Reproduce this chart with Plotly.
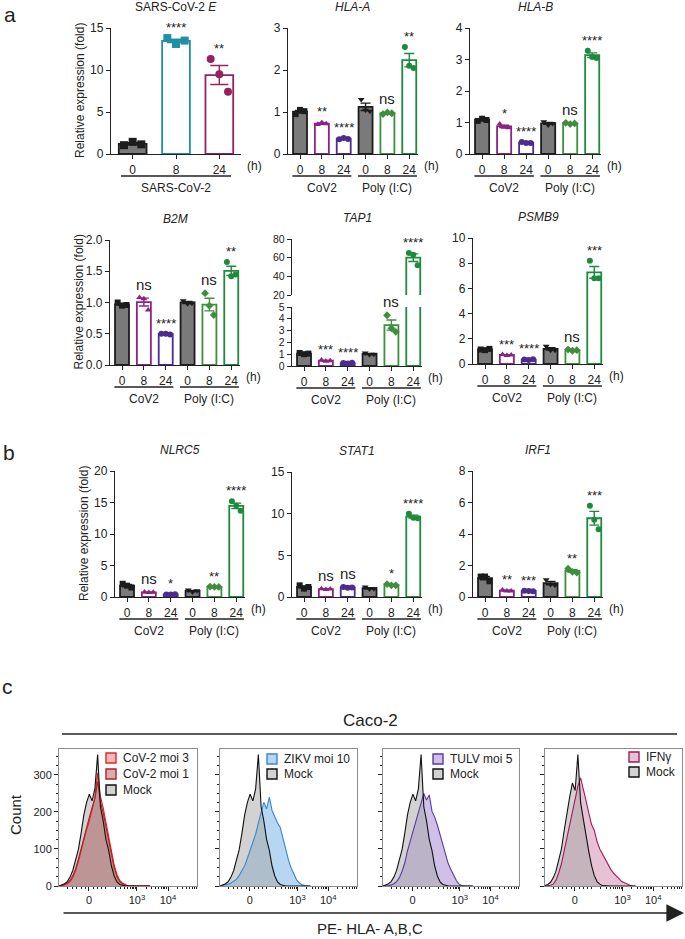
import plotly.graph_objects as go
import numpy as np

W, H = 685, 939
FONT = "Arial, Liberation Sans, Helvetica, sans-serif"
INK = "#222222"

# ---------------- data: panels a / b (relative expression, 3 replicates) ----------------
TIME_E = ["0", "8", "24"]
TIME_6 = ["0", "8", "24", "0", "8", "24"]
GROUP_E = ["SARS-CoV-2"]
GROUPS_6 = ["CoV2", "Poly (I:C)"]

E_PTS = [[1.05, 1.45, 1.15], [13.8, 13.1, 13.5], [11.3, 9.5, 7.4]]
E_SIG = ["", "****", "**"]

HLA_A_PTS = [[0.95, 1.05, 1.02], [0.70, 0.75, 0.72], [0.35, 0.38, 0.36],
             [1.30, 1.05, 1.02], [0.95, 0.99, 0.97], [2.55, 2.10, 2.05]]
HLA_A_SIG = ["", "**", "****", "", "ns", "**"]

HLA_B_PTS = [[1.05, 1.12, 1.08], [0.95, 0.85, 0.83], [0.38, 0.35, 0.35],
             [1.02, 0.92, 0.97], [0.99, 0.95, 0.97], [3.28, 3.08, 3.05]]
HLA_B_SIG = ["", "*", "****", "", "ns", "****"]

B2M_PTS = [[1.00, 0.95, 0.96], [1.08, 1.06, 0.88], [0.50, 0.50, 0.49],
           [1.03, 0.98, 0.99], [1.15, 0.95, 0.80], [1.65, 1.42, 1.45]]
B2M_SIG = ["", "ns", "****", "", "ns", "**"]

TAP1_PTS = [[1.10, 1.00, 1.05], [0.50, 0.40, 0.45], [0.25, 0.22, 0.27],
            [1.10, 0.95, 1.00], [4.30, 3.20, 2.90], [65.0, 63.0, 52.0]]
TAP1_SIG = ["", "***", "****", "", "ns", "****"]

PSMB9_PTS = [[1.15, 1.10, 1.20], [0.75, 0.68, 0.72], [0.35, 0.32, 0.38],
             [1.40, 1.10, 1.10], [1.15, 1.05, 1.10], [8.20, 6.80, 6.80]]
PSMB9_SIG = ["", "***", "****", "", "ns", "***"]

NLRC5_PTS = [[2.10, 1.80, 1.50], [0.80, 0.70, 0.75], [0.40, 0.38, 0.42],
             [1.10, 0.80, 1.00], [1.65, 1.60, 1.60], [15.2, 14.5, 13.7]]
NLRC5_SIG = ["", "ns", "*", "", "**", "****"]

STAT1_PTS = [[1.40, 1.00, 1.20], [1.00, 0.90, 0.95], [1.20, 1.10, 1.15],
             [1.20, 0.95, 1.00], [1.55, 1.40, 1.40], [10.0, 9.50, 9.45]]
STAT1_SIG = ["", "ns", "ns", "", "*", "****"]

IRF1_PTS = [[1.30, 1.30, 1.00], [0.45, 0.38, 0.38], [0.40, 0.38, 0.36],
            [1.10, 0.80, 0.75], [1.80, 1.60, 1.55], [5.80, 4.90, 4.30]]
IRF1_SIG = ["", "**", "***", "", "**", "***"]

# ---------------- data: panel c (flow histograms, counts per display channel) ----------------
CHANNEL = list(range(0, 68, 2))
MOCK = [0, 2, 6, 12, 24, 42, 68, 98, 142, 192, 226, 248, 230, 262, 355, 214, 176, 126,
        96, 54, 27, 11, 4, 1, 0, 0, 0, 0, 0, 0, 0, 0, 0, 0]
MOCK_IFN = [1, 4, 10, 22, 40, 68, 100, 150, 200, 240, 278, 258, 355, 225, 180, 130, 92,
            55, 28, 12, 5, 1, 0, 0, 0, 0, 0, 0, 0, 0, 0, 0, 0, 0]
COV_MOI3 = [0, 1, 3, 6, 12, 22, 40, 65, 95, 125, 152, 176, 204, 238, 305, 242, 212, 174,
            128, 94, 56, 31, 15, 8, 4, 1, 0, 0, 0, 0, 0, 0, 0, 0]
COV_MOI1 = [0, 1, 4, 8, 15, 28, 46, 72, 102, 132, 162, 186, 212, 236, 282, 228, 198, 162,
            118, 84, 50, 26, 12, 6, 2, 1, 0, 0, 0, 0, 0, 0, 0, 0]
ZIKV = [0, 1, 3, 5, 8, 12, 18, 28, 40, 55, 75, 95, 118, 140, 170, 195, 226, 208, 240,
        204, 186, 170, 158, 128, 100, 70, 48, 30, 16, 8, 3, 1, 0, 0]
TULV = [0, 0, 1, 3, 6, 12, 22, 40, 62, 95, 120, 145, 170, 196, 224, 250, 232, 246, 202,
        186, 164, 138, 110, 84, 60, 44, 28, 14, 5, 1, 0, 0, 0, 0]
IFNG = [0, 0, 2, 5, 15, 35, 60, 95, 130, 166, 200, 236, 270, 292, 256, 230, 196, 166,
        150, 120, 100, 86, 70, 56, 45, 35, 26, 20, 12, 8, 4, 2, 0, 0]
HIST_TICKS = ["0", "10<sup>3</sup>", "10<sup>4</sup>"]
COUNT_TICKS = [0, 100, 200, 300]

# ---------------- styles ----------------
STYLE_6 = [
    dict(fill="#7a7a7a", line="#1c1c1c", symbol="square"),
    dict(fill="white", line="#8b2386", symbol="triangle-up"),
    dict(fill="white", line="#4b2d8f", symbol="circle"),
    dict(fill="#7a7a7a", line="#1c1c1c", symbol="triangle-down"),
    dict(fill="white", line="#3d8f3d", symbol="diamond"),
    dict(fill="white", line="#1e8a3e", symbol="circle"),
]
STYLE_E = [
    dict(fill="#7a7a7a", line="#1c1c1c", symbol="square"),
    dict(fill="white", line="#1f8fa6", symbol="square"),
    dict(fill="white", line="#99205e", symbol="circle"),
]
JITTER = [-0.2, 0.0, 0.2]


def fx(px):
    return px / W


def fy(py):
    return 1 - py / H


fig = go.Figure()
axes_layout = {}
annotations = []
shapes = []
counter = [0]


def new_axes(xpx, ypx, xcfg, ycfg):
    counter[0] += 1
    n = counter[0]
    s = "" if n == 1 else str(n)
    axes_layout["xaxis" + s] = dict(domain=[fx(xpx[0]), fx(xpx[1])], anchor="y" + s,
                                    automargin=False, **xcfg)
    axes_layout["yaxis" + s] = dict(domain=[fy(ypx[1]), fy(ypx[0])], anchor="x" + s,
                                    automargin=False, **ycfg)
    return "x" + s, "y" + s


def text(x, y, t, size=12, xref="paper", yref="paper", xanchor="center",
         yanchor="middle", **kw):
    annotations.append(dict(x=x, y=y, text=t, xref=xref, yref=yref, showarrow=False,
                            xanchor=xanchor, yanchor=yanchor,
                            font=dict(size=size, color=INK, family=FONT), **kw))


def bar_panel(pts, sig, ticklabels, groups, title, xpx, segments, styles,
              ylabel=False, tickformat=None, msize=6, capw=5, yfont=12):
    n = len(pts)
    means = [float(np.mean(p)) for p in pts]
    sems = [float(np.std(p, ddof=1) / np.sqrt(len(p))) for p in pts]
    xr = [-0.55, n - 0.6] if n == 6 else [-0.5, n - 0.5]
    axes = []
    first_x = None
    for k, (ytop, ybot, yrng, dt) in enumerate(segments):
        xcfg = dict(range=xr, showgrid=False, zeroline=False, fixedrange=True)
        if k == 0:
            xcfg.update(showline=True, linecolor=INK, linewidth=1.4, ticks="outside",
                        ticklen=4, tickwidth=1.2, tickcolor=INK, tickmode="array",
                        tickvals=list(range(n)), ticktext=ticklabels,
                        tickfont=dict(size=12, color=INK, family=FONT))
        else:
            xcfg.update(visible=False, matches=first_x)
        ycfg = dict(range=yrng, dtick=dt, tick0=yrng[0], showgrid=False, zeroline=False,
                    showline=True, linecolor=INK, linewidth=1.4, ticks="outside",
                    ticklen=4, tickwidth=1.2, tickcolor=INK,
                    tickfont=dict(size=yfont, color=INK, family=FONT))
        if tickformat:
            ycfg["tickformat"] = tickformat
        xa, ya = new_axes(xpx, (ytop, ybot), xcfg, ycfg)
        if k == 0:
            first_x = xa
        axes.append((xa, ya, yrng))
        for i in range(n):
            st = styles[i]
            fig.add_trace(go.Bar(
                x=[i], y=[means[i]], width=0.64, xaxis=xa, yaxis=ya,
                marker=dict(color=st["fill"], line=dict(color=st["line"], width=1.8)),
                error_y=dict(type="data", array=[sems[i]], color=st["line"],
                             thickness=1.4, width=capw),
                showlegend=False, hoverinfo="skip"))
        for i in range(n):
            st = styles[i]
            fig.add_trace(go.Scatter(
                x=[i + j for j in JITTER], y=pts[i], mode="markers", xaxis=xa, yaxis=ya,
                marker=dict(symbol=st["symbol"], size=msize, color=st["line"]),
                showlegend=False, hoverinfo="skip"))
    # significance labels
    for i in range(n):
        if not sig[i]:
            continue
        top = max(max(pts[i]), means[i] + sems[i])
        xa, ya = axes[0][0], axes[0][1]
        for (axx, axy, rng) in axes:
            if rng[0] <= top <= rng[1]:
                xa, ya = axx, axy
        if sig[i] == "ns":
            text(i, top, "ns", size=15, xref=xa, yref=ya, yanchor="bottom", yshift=3)
        else:
            text(i, top, sig[i], size=13, xref=xa, yref=ya, yanchor="bottom", yshift=1)
    # title
    ytop_all = min(s[0] for s in segments)
    text(fx((xpx[0] + xpx[1]) / 2), fy(ytop_all - 21), title, size=12)
    # (h) + group underlines
    ybot0 = segments[0][1]
    xa0 = axes[0][0]
    text(1.0, fy(ybot0 + 12), "(h)", xref=xa0 + " domain", xanchor="left", xshift=4)
    if n == 6:
        spans = [(-0.35, 2.35), (2.65, 5.35)]
    else:
        spans = [(-0.27, 2.27)]
    for (a, b), g in zip(spans, groups):
        shapes.append(dict(type="line", xref=xa0, yref="paper", x0=a, x1=b,
                           y0=fy(ybot0 + 22), y1=fy(ybot0 + 22),
                           line=dict(color=INK, width=1.5)))
        text((a + b) / 2, fy(ybot0 + 34), g, xref=xa0)
    if ylabel:
        ymid = (ytop_all + ybot0) / 2
        text(fx(xpx[0] - 31), fy(ymid), "Relative expression (fold)", textangle=-90)


# ---- panel a, row 1
bar_panel(E_PTS, E_SIG, TIME_E, GROUP_E, "SARS-CoV-2 <i>E</i>", (111, 241),
          [(28, 154, [0, 15], 5)], STYLE_E, ylabel=True, msize=8, capw=9)
bar_panel(HLA_A_PTS, HLA_A_SIG, TIME_6, GROUPS_6, "<i>HLA-A</i>", (288, 418),
          [(28, 154, [0, 3], 1)], STYLE_6)
bar_panel(HLA_B_PTS, HLA_B_SIG, TIME_6, GROUPS_6, "<i>HLA-B</i>", (470, 601),
          [(28, 154, [0, 4], 1)], STYLE_6)
# ---- panel a, row 2
bar_panel(B2M_PTS, B2M_SIG, TIME_6, GROUPS_6, "<i>B2M</i>", (110, 240),
          [(240, 365, [0, 2], 0.5)], STYLE_6, ylabel=True, tickformat=".1f")
bar_panel(TAP1_PTS, TAP1_SIG, TIME_6, GROUPS_6, "<i>TAP1</i>", (292, 422),
          [(307, 366, [0, 5], 1), (239, 295, [20, 80], 20)], STYLE_6, yfont=10.5)
bar_panel(PSMB9_PTS, PSMB9_SIG, TIME_6, GROUPS_6, "<i>PSMB9</i>", (473, 603),
          [(238, 364, [0, 10], 2)], STYLE_6)
# ---- panel b
bar_panel(NLRC5_PTS, NLRC5_SIG, TIME_6, GROUPS_6, "<i>NLRC5</i>", (115, 245),
          [(471, 597, [0, 20], 5)], STYLE_6, ylabel=True)
bar_panel(STAT1_PTS, STAT1_SIG, TIME_6, GROUPS_6, "<i>STAT1</i>", (292, 422),
          [(472, 597, [0, 15], 5)], STYLE_6)
bar_panel(IRF1_PTS, IRF1_SIG, TIME_6, GROUPS_6, "<i>IRF1</i>", (473, 603),
          [(471, 597, [0, 8], 2)], STYLE_6)

# ---------------- panel c histograms ----------------
MAJOR_X = [21.7, 56.5, 79.0]
MINOR_X = [6, 10, 13, 16, 19, 25, 28, 31, 34, 40.8, 44.7, 47.5, 49.7, 51.5, 53, 54.3, 55.5,
           63.3, 67.2, 70.0, 72.2, 74.0, 75.5, 76.8, 78.0,
           85.8, 89.7, 92.5, 94.7, 96.5, 98.0, 99.3]
FRAME = "#8c8c8c"
MOCK_FILL = "rgba(165,165,165,0.5)"

hist_specs = [
    dict(xpx=(59, 197), mock=MOCK,
         curves=[("CoV-2 moi 3", COV_MOI3, "rgba(236,95,95,0.45)", "#e3262b"),
                 ("CoV-2 moi 1", COV_MOI1, "rgba(175,70,70,0.45)", "#b0202a")],
         lx=106, ly=758, labels=True),
    dict(xpx=(220, 357), mock=MOCK,
         curves=[("ZIKV moi 10", ZIKV, "rgba(95,165,225,0.45)", "#3a86d0")],
         lx=267, ly=759, labels=False),
    dict(xpx=(383, 519), mock=MOCK,
         curves=[("TULV moi 5", TULV, "rgba(150,115,205,0.45)", "#5a3a9e")],
         lx=433, ly=759, labels=False),
    dict(xpx=(545, 682), mock=MOCK_IFN,
         curves=[("IFNγ", IFNG, "rgba(200,120,160,0.45)", "#a3195b")],
         lx=629, ly=757, labels=False),
]

for spec in hist_specs:
    xcfg = dict(range=[0, 100], showgrid=False, zeroline=False, showline=True, mirror=True,
                linecolor=FRAME, linewidth=1, ticks="outside", ticklen=4, tickcolor=INK,
                tickmode="array", tickvals=MAJOR_X, ticktext=HIST_TICKS,
                tickfont=dict(size=11, color=INK, family=FONT),
                minor=dict(tickmode="array", tickvals=MINOR_X, ticks="outside", ticklen=2,
                           tickcolor=INK, showgrid=False))
    ycfg = dict(range=[0, 370], showgrid=False, zeroline=False, showline=True, mirror=True,
                linecolor=FRAME, linewidth=1, ticks="outside", ticklen=4, tickcolor=INK,
                tickmode="array", tickvals=COUNT_TICKS, showticklabels=spec["labels"],
                tickfont=dict(size=11, color=INK, family=FONT),
                minor=dict(tickmode="array",
                           tickvals=[25, 50, 75, 125, 150, 175, 225, 250, 275, 325, 350],
                           ticks="outside", ticklen=2, tickcolor=INK, showgrid=False))
    xa, ya = new_axes(spec["xpx"], (749, 886), xcfg, ycfg)
    all_curves = spec["curves"] + [("Mock", spec["mock"], MOCK_FILL, "#111111")]
    for name, vals, fc, lc in all_curves:
        fig.add_trace(go.Scatter(x=CHANNEL, y=vals, mode="lines", line=dict(width=0),
                                 fill="tozeroy", fillcolor=fc, xaxis=xa, yaxis=ya,
                                 showlegend=False, hoverinfo="skip"))
    for name, vals, fc, lc in all_curves:
        fig.add_trace(go.Scatter(x=CHANNEL, y=vals, mode="lines",
                                 line=dict(width=1.1, color=lc),
                                 xaxis=xa, yaxis=ya, showlegend=False, hoverinfo="skip"))
    # legend: swatch + label per curve
    step = 16 if len(all_curves) == 3 else 15
    for k, (name, vals, fc, lc) in enumerate(all_curves):
        yc = spec["ly"] + k * step
        shapes.append(dict(type="rect", xref="paper", yref="paper",
                           x0=fx(spec["lx"]), x1=fx(spec["lx"] + 10),
                           y0=fy(yc + 5), y1=fy(yc - 5),
                           fillcolor=fc, line=dict(color=lc, width=1.4)))
        text(fx(spec["lx"] + 15), fy(yc), name, size=12, xanchor="left")

# panel c decorations
shapes.append(dict(type="line", xref="paper", yref="paper", x0=fx(62), x1=fx(677),
                   y0=fy(734), y1=fy(734), line=dict(color=INK, width=1.6)))
annotations.append(dict(xref="paper", yref="paper", axref="pixel", ayref="pixel",
                        x=fx(684), y=fy(913), ax=-(684 - 62), ay=0, showarrow=True,
                        arrowhead=2, arrowsize=2.2, arrowwidth=1.6, arrowcolor=INK, text=""))
text(fx(370), fy(720), "Caco-2", size=17)
text(fx(370), fy(928), "PE- HLA- A,B,C", size=15)
text(fx(15), fy(815), "Count", size=15, textangle=-90)

# panel letters
text(fx(10), fy(15), "a", size=21)
text(fx(9), fy(452), "b", size=21)
text(fx(7), fy(686), "c", size=21)

fig.update_layout(
    width=W, height=H, margin=dict(l=0, r=0, t=0, b=0, autoexpand=False),
    paper_bgcolor="white", plot_bgcolor="rgba(0,0,0,0)",
    barmode="overlay", showlegend=False,
    font=dict(family=FONT, color=INK, size=12),
    annotations=annotations, shapes=shapes,
    **axes_layout,
)
fig.write_html("out.html", config={"displayModeBar": False},
               post_script="document.body.style.margin='0';document.body.style.padding='0';")
